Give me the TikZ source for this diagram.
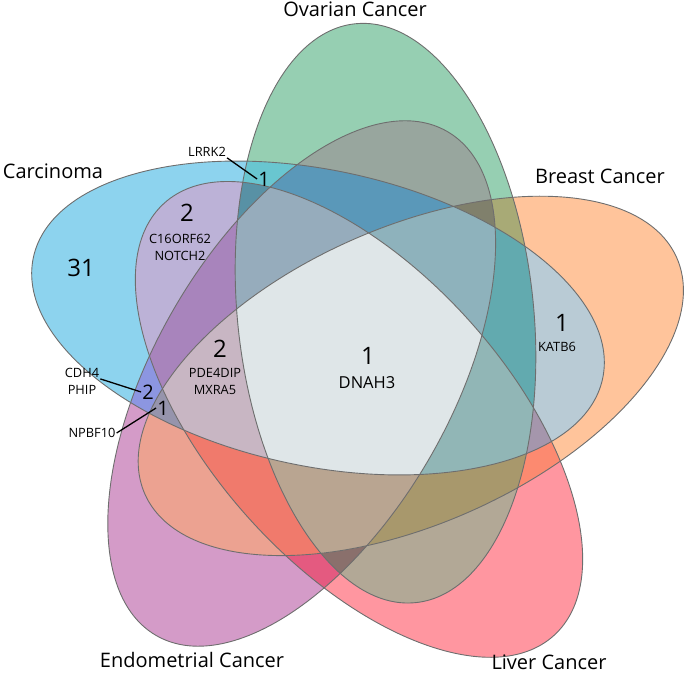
\documentclass[tikz,border=0pt]{standalone}
\usepackage{fontspec}
\setmainfont{Open Sans}
% single-set regions
\definecolor{sB}{RGB}{141,211,238}
\definecolor{sG}{RGB}{150,207,178}
\definecolor{sO}{RGB}{255,196,155}
\definecolor{sR}{RGB}{255,150,160}
\definecolor{sP}{RGB}{212,155,200}
% two-set regions
\definecolor{rBG}{RGB}{105,198,208}
\definecolor{rGO}{RGB}{168,170,118}
\definecolor{rOR}{RGB}{252,138,112}
\definecolor{rRP}{RGB}{228,90,128}
\definecolor{rPB}{RGB}{140,150,225}
\definecolor{rBR}{RGB}{188,178,215}
\definecolor{rGP}{RGB}{152,166,158}
\definecolor{rOB}{RGB}{185,203,213}
\definecolor{rRG}{RGB}{178,168,150}
\definecolor{rPO}{RGB}{236,162,145}
% three-set regions
\definecolor{rBPO}{RGB}{150,148,172}
\definecolor{rGBR}{RGB}{88,145,165}
\definecolor{rOGP}{RGB}{128,128,108}
\definecolor{rROB}{RGB}{165,150,172}
\definecolor{rPRG}{RGB}{138,112,108}
\definecolor{rBRP}{RGB}{168,132,188}
\definecolor{rGPB}{RGB}{90,152,185}
\definecolor{rOBG}{RGB}{98,170,175}
\definecolor{rRGO}{RGB}{168,152,108}
\definecolor{rPOR}{RGB}{240,122,108}
% four-set regions
\definecolor{rBPOR}{RGB}{200,182,195}
\definecolor{rGBRP}{RGB}{150,172,188}
\definecolor{rOGPB}{RGB}{142,178,188}
\definecolor{rROBG}{RGB}{145,182,182}
\definecolor{rPRGO}{RGB}{185,165,145}
% all five
\definecolor{rAll}{RGB}{223,230,232}
\definecolor{cEdge}{RGB}{110,110,110}
\tikzset{
  eGreen/.style={rotate around={96:(385.5,360.8)}},
  eBlue/.style={rotate around={168:(318.0,356.0)}},
  eOrange/.style={rotate around={24:(410.8,298.1)}},
  eRed/.style={rotate around={-48:(359.0,254.6)}},
  ePurple/.style={rotate around={60:(301.7,290.5)}},
  edge/.style={draw=cEdge, line width=0.9pt},
  setlabel/.style={font=\fontsize{20}{22}\selectfont, anchor=base, inner sep=0pt},
  bignum/.style={font=\fontsize{24}{26}\selectfont, inner sep=1pt},
  midnum/.style={font=\fontsize{20}{22}\selectfont, inner sep=1pt},
  gene/.style={font=\fontsize{12.8}{14}\selectfont, inner sep=1pt},
  biggene/.style={font=\fontsize{16.5}{18}\selectfont, inner sep=1pt},
  leader/.style={draw=black, line width=1.3pt}
}
\newcommand{\ellG}{(385.5,360.8) ellipse [x radius=291, y radius=148]}
\newcommand{\ellB}{(318.0,356.0) ellipse [x radius=291, y radius=148]}
\newcommand{\ellO}{(410.8,298.1) ellipse [x radius=291, y radius=148]}
\newcommand{\ellR}{(359.0,254.6) ellipse [x radius=291, y radius=148]}
\newcommand{\ellP}{(301.7,290.5) ellipse [x radius=291, y radius=148]}
\newcommand{\cG}{\clip[eGreen] \ellG;}
\newcommand{\cB}{\clip[eBlue] \ellB;}
\newcommand{\cO}{\clip[eOrange] \ellO;}
\newcommand{\cR}{\clip[eRed] \ellR;}
\newcommand{\cP}{\clip[ePurple] \ellP;}
\newcommand{\paint}[2]{\begin{scope}#2\fill[#1] (0,0) rectangle (685,674);\end{scope}}
\begin{document}
\begin{tikzpicture}[x=1pt,y=1pt]
\useasboundingbox (0,0) rectangle (685,674);
% single sets
\fill[sP, ePurple] \ellP;
\fill[sR, eRed] \ellR;
\fill[sO, eOrange] \ellO;
\fill[sG, eGreen] \ellG;
\fill[sB, eBlue] \ellB;
% two sets
\paint{rBG}{\cB\cG}
\paint{rGO}{\cG\cO}
\paint{rOR}{\cO\cR}
\paint{rRP}{\cR\cP}
\paint{rPB}{\cP\cB}
\paint{rBR}{\cB\cR}
\paint{rGP}{\cG\cP}
\paint{rOB}{\cO\cB}
\paint{rRG}{\cR\cG}
\paint{rPO}{\cP\cO}
% three sets
\paint{rBPO}{\cB\cP\cO}
\paint{rGBR}{\cG\cB\cR}
\paint{rOGP}{\cO\cG\cP}
\paint{rROB}{\cR\cO\cB}
\paint{rPRG}{\cP\cR\cG}
\paint{rBRP}{\cB\cR\cP}
\paint{rGPB}{\cG\cP\cB}
\paint{rOBG}{\cO\cB\cG}
\paint{rRGO}{\cR\cG\cO}
\paint{rPOR}{\cP\cO\cR}
% four sets
\paint{rBPOR}{\cB\cP\cO\cR}
\paint{rGBRP}{\cG\cB\cR\cP}
\paint{rOGPB}{\cO\cG\cP\cB}
\paint{rROBG}{\cR\cO\cB\cG}
\paint{rPRGO}{\cP\cR\cG\cO}
% five sets
\paint{rAll}{\cB\cG\cO\cR\cP}
% outlines
\draw[edge, ePurple] \ellP;
\draw[edge, eRed] \ellR;
\draw[edge, eOrange] \ellO;
\draw[edge, eGreen] \ellG;
\draw[edge, eBlue] \ellB;
% set labels
\node[setlabel] (ov) at (355,657) {Ovarian Cancer};
\node[setlabel] (br) at (600,490) {Breast Cancer};
\node[setlabel] (ca) at (53,495) {Carcinoma};
\node[setlabel] (en) at (192,6) {Endometrial Cancer};
\node[setlabel] (li) at (549,4) {Liver Cancer};
% counts and genes
\node[bignum] (n31) at (81,406) {31};
\node[bignum] (n2a) at (187,461) {2};
\node[gene] (g1) at (180,435) {C16ORF62};
\node[gene] (g2) at (180,418) {NOTCH2};
\node[gene] (lrrk) at (207,522) {LRRK2};
\node[midnum] (n1a) at (264,495) {1};
\node[bignum] (n2b) at (220,325) {2};
\node[gene] (g3) at (215,301) {PDE4DIP};
\node[gene] (g4) at (215,284) {MXRA5};
\node[gene] (g5) at (82,301) {CDH4};
\node[gene] (g6) at (82,284) {PHIP};
\node[midnum] (n2c) at (148,282) {2};
\node[midnum] (n1b) at (163,266) {1};
\node[gene] (npb) at (92,241) {NPBF10};
\node[bignum] (n1c) at (368,318) {1};
\node[biggene] (g7) at (367,291) {DNAH3};
\node[bignum] (n1d) at (562,351) {1};
\node[gene] (g8) at (557,327) {KATB6};
% leaders
\draw[leader] (lrrk.south east) -- (n1a.west);
\draw[leader] (g5.south east) -- (n2c.west);
\draw[leader] (npb.east) -- (n1b.west);
\end{tikzpicture}
\end{document}
